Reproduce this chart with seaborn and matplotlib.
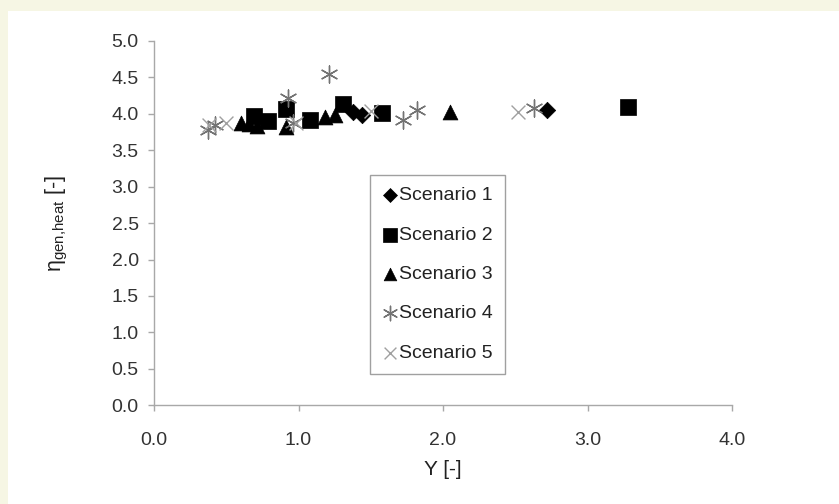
import matplotlib
matplotlib.use("Agg")
import matplotlib.pyplot as plt
import seaborn as sns
import pandas as pd
from matplotlib.patches import Rectangle

# values
s1_x = [1.38, 1.44, 2.72]
s1_y = [4.03, 3.98, 4.05]
s2_x = [0.69, 0.79, 0.91, 1.08, 1.31, 1.58, 3.28]
s2_y = [3.97, 3.90, 4.07, 3.91, 4.14, 4.01, 4.09]
s3_x = [0.60, 0.66, 0.71, 0.91, 1.18, 1.25, 2.05]
s3_y = [3.87, 3.86, 3.83, 3.82, 3.96, 3.98, 4.02]
s4_x = [0.37, 0.42, 0.93, 0.96, 1.21, 1.72, 1.82, 2.63]
s4_y = [3.78, 3.85, 4.22, 3.87, 4.55, 3.92, 4.05, 4.08]
s5_x = [0.38, 0.50, 0.98, 1.50, 2.52]
s5_y = [3.85, 3.87, 3.88, 4.04, 4.03]

labels = ["Scenario 1", "Scenario 2", "Scenario 3", "Scenario 4", "Scenario 5"]

sns.set_style("white")
plt.rcParams["font.family"] = ["Liberation Sans", "DejaVu Sans"]
plt.rcParams["mathtext.fontset"] = "custom"
plt.rcParams["mathtext.rm"] = "Liberation Sans"

fig = plt.figure(figsize=(8.39, 5.04), dpi=100, facecolor="#f6f6e4")
# white panel, beige strip left and top
fig.patches.append(Rectangle((8 / 839, 0), 1, 1 - 11 / 504, transform=fig.transFigure,
                             facecolor="white", edgecolor="none", zorder=-10))
ax = fig.add_axes([0.1836, 0.196, 0.6889, 0.7227])
ax.set_facecolor("none")

series = [(s1_x, s1_y), (s2_x, s2_y), (s3_x, s3_y), (s4_x, s4_y), (s5_x, s5_y)]
styles = [
    dict(marker="D", color="black", s=70, edgecolor="black", linewidth=0.5),
    dict(marker="s", color="black", s=125, edgecolor="black", linewidth=0.5),
    dict(marker="^", color="black", s=115, edgecolor="black", linewidth=0.5),
    dict(marker=(6, 2, 0), color="#737373", s=150, linewidth=1.0),
    dict(marker="x", color="#a0a0a0", s=100, linewidth=1.0),
]
for (xs, ys), lab, st in zip(series, labels, styles):
    df = pd.DataFrame({"x": xs, "y": ys})
    sns.scatterplot(data=df, x="x", y="y", ax=ax, label=lab, **st)

ax.set_xlim(0, 4)
ax.set_ylim(0, 5)
ax.set_xticks([0, 1, 2, 3, 4])
ax.set_yticks([i * 0.5 for i in range(11)])
ax.xaxis.set_major_formatter(matplotlib.ticker.FormatStrFormatter("%.1f"))
ax.yaxis.set_major_formatter(matplotlib.ticker.FormatStrFormatter("%.1f"))
for side in ["top", "right"]:
    ax.spines[side].set_visible(False)
for side in ["left", "bottom"]:
    ax.spines[side].set_color("#a8a8a8")
    ax.spines[side].set_linewidth(1.0)
ax.tick_params(axis="both", which="both", direction="out", length=4, width=1,
               color="#a8a8a8", labelsize=14, labelcolor="#333333",
               left=True, bottom=True)
ax.tick_params(axis="y", pad=7)
ax.tick_params(axis="x", pad=15)

ax.set_xlabel("Y [-]", fontsize=15, color="#222222", labelpad=8)
ax.set_ylabel(r"η$_{\mathregular{gen{,}heat}}$ [-]", fontsize=15.5, color="#222222",
              labelpad=30)

leg = ax.legend(loc="upper left", bbox_to_anchor=(0.374, 0.632), fontsize=14,
                frameon=True, fancybox=False, edgecolor="#888888",
                handlelength=0.8, handletextpad=0.1, labelspacing=1.12,
                borderpad=0.6, borderaxespad=0, markerscale=0.85)
leg.get_frame().set_linewidth(1.0)
for t in leg.get_texts():
    t.set_color("#222222")

fig.savefig("out.png", dpi=100, facecolor=fig.get_facecolor())
